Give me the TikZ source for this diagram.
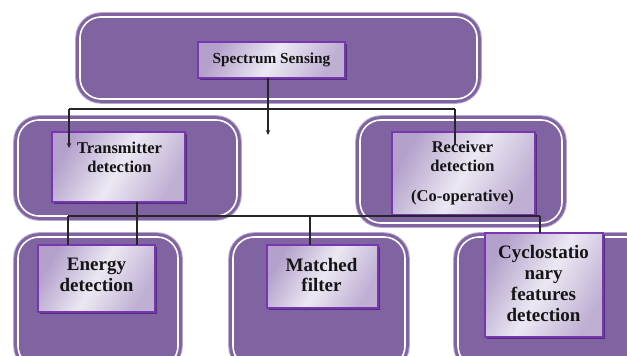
\documentclass[tikz,border=0pt]{standalone}
\usepackage{fontspec}
\setmainfont{Liberation Serif}
\usetikzlibrary{arrows.meta,shadows}
\definecolor{purp}{HTML}{8064A2}
\definecolor{glow}{HTML}{B9A9D2}
\definecolor{iborder}{HTML}{7A35B0}
\definecolor{ilight}{HTML}{ECE8F3}
\definecolor{idark}{HTML}{B3A1CB}
\definecolor{ishadow}{HTML}{4E2F78}
\definecolor{ink}{HTML}{151515}
\begin{document}
\begin{tikzpicture}[x=1pt,y=-1pt,
  obox/.style={draw=purp, fill=purp, line width=3pt, double=white, double distance=1.6pt,
    rounded corners=21pt, inner sep=0pt, outer sep=0pt, anchor=north west,
    preaction={draw=glow, line width=9.6pt, rounded corners=21pt}},
  ibox/.style={draw=iborder, line width=1.3pt, inner sep=0pt, outer sep=0pt, anchor=north west,
    left color=idark, right color=idark!80!ilight, middle color=ilight, shading angle=60,
    drop shadow={shadow xshift=1.6pt, shadow yshift=-1.6pt, fill=ishadow, opacity=1}},
  ttop/.style={font=\fontsize{15.3}{17}\selectfont\bfseries, text=ink, align=center},
  tmid/.style={font=\fontsize{16.5}{19}\selectfont\bfseries, text=ink, align=center},
  tbot/.style={font=\fontsize{19}{20.8}\selectfont\bfseries, text=ink, align=center},
  conn/.style={draw=black!85, line width=1.1pt},
  arr/.style={-{Stealth[length=5pt,width=4.5pt]}}
]
\useasboundingbox (0,0) rectangle (627,356);
\clip (0,0) rectangle (627,356);

% outer rounded frames
\node[obox, minimum width=397pt, minimum height=82pt] (topo) at (80,17) {};
\node[obox, minimum width=219pt, minimum height=96pt] (txo) at (18,120) {};
\node[obox, minimum width=202pt, minimum height=103pt] (rxo) at (360,120) {};
\node[obox, minimum width=160pt, minimum height=130pt] (eno) at (18,237) {};
\node[obox, minimum width=172pt, minimum height=130pt] (mao) at (233,237) {};
\node[obox, minimum width=200pt, minimum height=130pt] (cyo) at (458,237) {};

% inner boxes
\node[ibox, minimum width=147pt, minimum height=36pt] (ss) at (198,42) {};
\node[ibox, minimum width=133pt, minimum height=70pt] (tx) at (52,132) {};
\node[ibox, minimum width=143pt, minimum height=83pt] (rx) at (392,132) {};
\node[ibox, minimum width=117pt, minimum height=67pt] (en) at (38,245) {};
\node[ibox, minimum width=111pt, minimum height=63pt] (ma) at (267,245) {};
\node[ibox, minimum width=118pt, minimum height=104pt] (cy) at (485,233) {};

% texts
\node[ttop] (sst) at (271.5,59.5) {Spectrum Sensing};
\node[tmid] (txt) at (119.5,157.5) {Transmitter\\detection};
\node[tmid] (rxt) at (462.5,173) {Receiver\\detection\\[11pt](Co-operative)};
\node[tbot] (ent) at (96.5,275) {Energy\\detection};
\node[tbot] (mat) at (321.5,275) {Matched\\filter};
\node[tbot] (cyt) at (543.5,283.5) {Cyclostatio\\nary\\features\\detection};

% connector coordinates
\coordinate (ssdown) at (268,135);
\coordinate (busL) at (69,109);
\coordinate (busR) at (455,109);
\coordinate (txin) at (69,148);
\coordinate (rxin) at (455,145);
\coordinate (b1) at (68,216);
\coordinate (bm) at (310,216);
\coordinate (b2) at (540,216);
\coordinate (tdrop) at (137,202);

% connectors
\draw[conn,arr] (ssdown |- ss.south) -- (ssdown);
\draw[conn] (busL) -- (busR);
\draw[conn,arr] (busL) -- (txin);
\draw[conn] (busR) -- (rxin);
\draw[conn] (b1) -- (b2);
\draw[conn] (b1) -- (b1 |- en.north);
\draw[conn] (bm) -- (bm |- ma.north);
\draw[conn] (b2) -- (b2 |- cy.north);
\draw[conn] (tdrop) -- (tdrop |- en.north);
\end{tikzpicture}
\end{document}
